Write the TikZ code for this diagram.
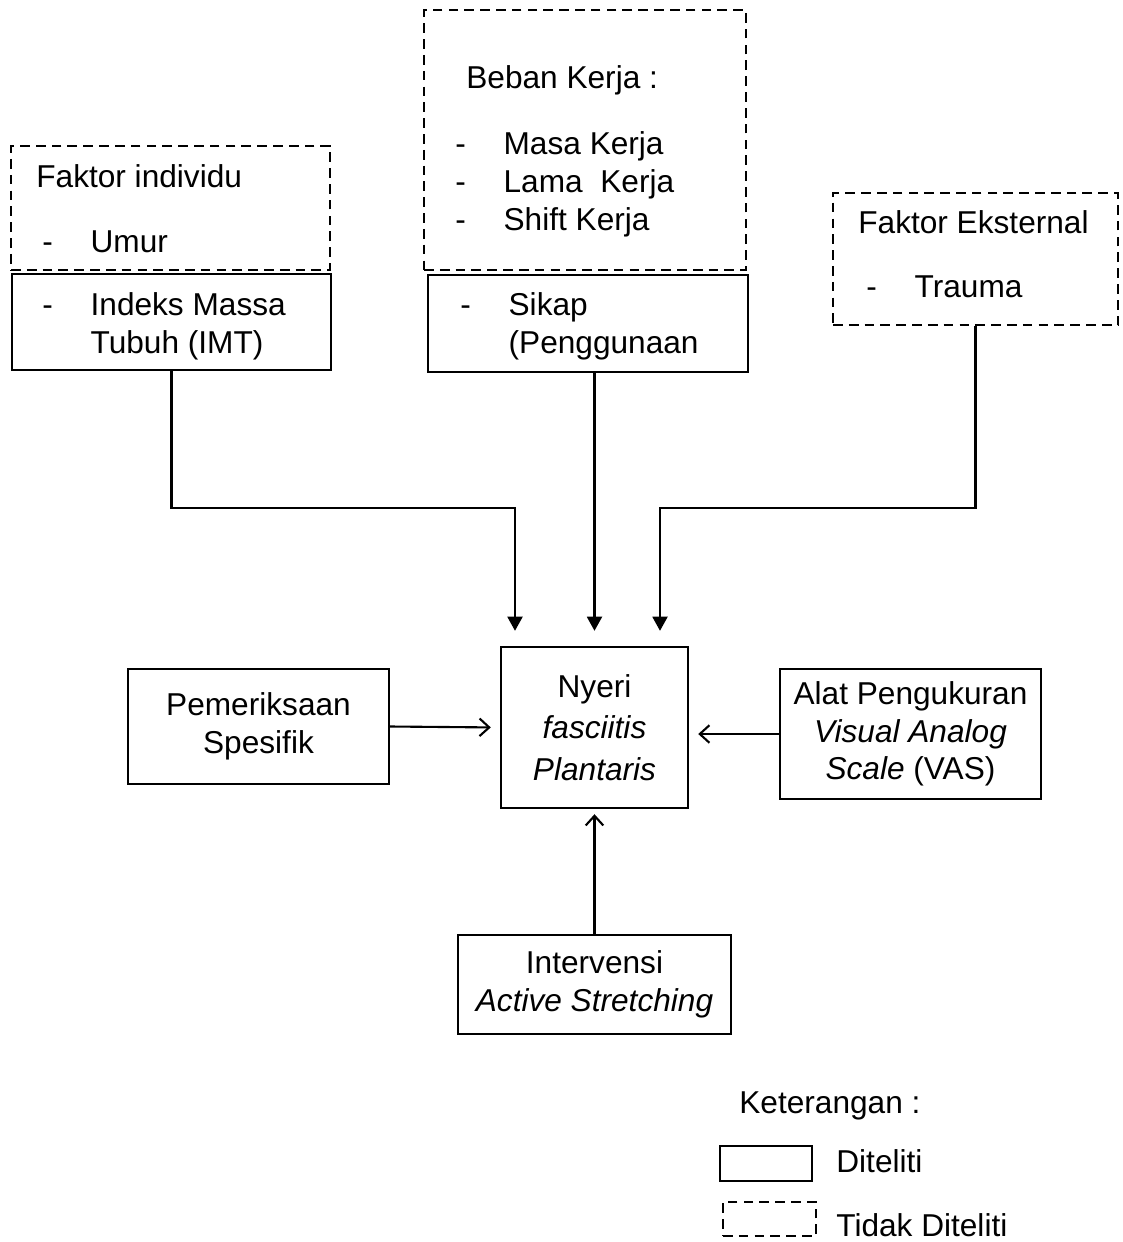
\documentclass[tikz,border=0pt]{standalone}
\usepackage{fontspec}
\setmainfont{Liberation Sans}
\usetikzlibrary{arrows.meta}

\newcommand{\dashitem}[1]{\makebox[27.5pt][l]{-}#1}

\tikzset{
  solidbox/.style={draw, line width=1.4pt, inner sep=0pt, align=center},
  dashbox/.style={draw, line width=1.4pt, dash pattern=on 5.5pt off 3.5pt, inner sep=0pt},
  txt/.style={anchor=base west, inner sep=0pt, align=left},
  fillarrow/.style={-{Triangle[length=8pt,width=8.5pt]}, line width=1.2pt},
  openarrow/.style={-{Straight Barb[length=5.5pt,width=10pt]}, line width=1.2pt}
}

\begin{document}
\begin{tikzpicture}[x=0.02cm, y=-0.02cm, font=\fontsize{18}{21.5}\selectfont]
  \useasboundingbox (0,0) rectangle (1123,1242);

  % factors (top row)
  \node[dashbox, minimum width=6.38cm, minimum height=2.48cm] (indiv) at (170.5,208) {};
  \node[solidbox, minimum width=6.38cm, minimum height=1.92cm] (imt) at (171.5,322) {};
  \node[dashbox, minimum width=6.44cm, minimum height=5.2cm] (beban) at (585,140) {};
  \node[solidbox, minimum width=6.4cm, minimum height=1.94cm] (sikap) at (588,323.5) {};
  \node[dashbox, minimum width=5.7cm, minimum height=2.64cm] (ekst) at (975.5,259) {};

  % multi-line texts sit on the baseline of their last line
  \node[txt] (indivhead) at (36,187) {Faktor individu};
  \node[txt] (indivlist) at (42,252) {\dashitem{Umur}};
  \node[txt] (imtlist) at (42,353) {\dashitem{Indeks Massa}\\\hspace*{27.5pt}Tubuh (IMT)};
  \node[txt] (bebanhead) at (466,88) {Beban Kerja :};
  \node[txt] (bebanlist) at (455,230) {\dashitem{Masa Kerja}\\\dashitem{Lama\ \ Kerja}\\\dashitem{Shift Kerja}};
  \node[txt] (sikaplist) at (460,353) {\dashitem{Sikap}\\\hspace*{27.5pt}(Penggunaan};
  \node[txt] (eksthead) at (858,233) {Faktor Eksternal};
  \node[txt] (ekstlist) at (866,297) {\dashitem{Trauma}};

  % centre row
  \node[solidbox, minimum width=3.74cm, minimum height=3.22cm] (nyeri) at (594.5,727.5)
    {Nyeri\\[2pt]\textit{fasciitis}\\[2pt]\textit{Plantaris}};
  \node[solidbox, minimum width=5.22cm, minimum height=2.3cm] (periksa) at (258.5,726.5)
    {Pemeriksaan\\Spesifik};
  \node[solidbox, minimum width=5.22cm, minimum height=2.6cm] (alat) at (910.5,734)
    {Alat Pengukuran\\\textit{Visual Analog}\\\textit{Scale} (VAS)};
  \node[solidbox, minimum width=5.46cm, minimum height=1.98cm] (intervensi) at (594.5,984.5)
    {Intervensi\\\textit{Active Stretching}};

  % connectors
  \coordinate (bendL) at (515,508);
  \coordinate (bendR) at (660,508);
  \draw[fillarrow, shorten >=0.3cm] (imt.south) |- (bendL) -- (bendL |- nyeri.north);
  \draw[fillarrow, shorten >=0.3cm] (nyeri.north |- sikap.south) -- (nyeri.north);
  \draw[fillarrow, shorten >=0.3cm] (ekst.south) |- (bendR) -- (bendR |- nyeri.north);
  \draw[openarrow, shorten >=0.18cm] (periksa.east) -- (nyeri.west);
  \draw[openarrow, shorten >=0.18cm] (alat.west) -- (alat.west -| nyeri.east);
  \draw[openarrow, shorten >=0.1cm] (intervensi.north) -- (nyeri.south);

  % legend
  \node[txt] (keterangan) at (739,1113) {Keterangan :};
  \node[solidbox, minimum width=1.84cm, minimum height=0.7cm] (legsolid) at (766,1163.5) {};
  \node[dashbox, minimum width=1.86cm, minimum height=0.68cm] (legdash) at (769.5,1219) {};
  \node[txt] (legsolidtxt) at (836,1172) {Diteliti};
  \node[txt] (legdashtxt) at (836,1236) {Tidak Diteliti};
\end{tikzpicture}
\end{document}
